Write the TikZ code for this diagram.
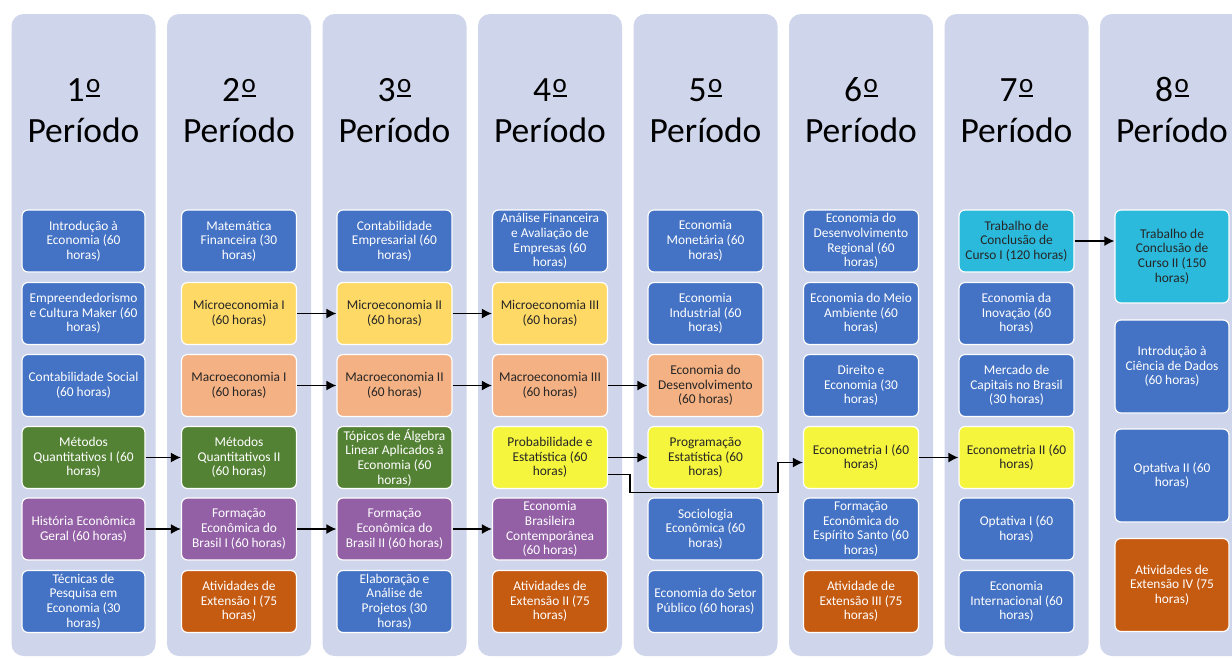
\documentclass[tikz,border=0pt]{standalone}
\usepackage{fontspec}
\setmainfont{Carlito}
\usetikzlibrary{arrows.meta}

\definecolor{fundo}{HTML}{CFD5EA}
\definecolor{azul}{HTML}{4472C4}
\definecolor{amarelo}{HTML}{FFD966}
\definecolor{salmao}{HTML}{F4B183}
\definecolor{verde}{HTML}{548235}
\definecolor{roxo}{HTML}{9360A6}
\definecolor{laranja}{HTML}{C55A11}
\definecolor{limao}{HTML}{F5F53D}
\definecolor{ciano}{HTML}{2BB9DC}
\definecolor{texto}{HTML}{262626}

% o ordinal sublinhado
\newcommand{\ordm}{\kern1.5pt\raisebox{4.5pt}{\fontsize{27}{27}\selectfont
  \setbox0\hbox{o}\vbox{\box0\kern2.3pt\hrule height 2pt}}}

\tikzset{
  titulo/.style={anchor=base, font=\fontsize{35.5}{41}\selectfont},
  disc/.style={draw=white, line width=1.2pt, rounded corners=6pt, minimum width=115pt,
    minimum height=62pt, inner sep=0pt, align=center, font=\fontsize{13.4}{14.7}\selectfont},
  obrig/.style={disc, fill=azul, text=white},
  micro/.style={disc, fill=amarelo, text=texto},
  macro/.style={disc, fill=salmao, text=texto},
  quant/.style={disc, fill=verde, text=white},
  hist/.style={disc, fill=roxo, text=white},
  ext/.style={disc, fill=laranja, text=white},
  estat/.style={disc, fill=limao, text=texto},
  tcc/.style={disc, fill=ciano, text=texto},
  alto/.style={minimum height=93pt, minimum width=114pt},
  seta/.style={-{Latex[length=10pt,width=10pt]}, line width=1.5pt},
}

\begin{document}
\begin{tikzpicture}[x=1pt,y=-1pt]
  \useasboundingbox (0,0) rectangle (1232,657);
  \clip (0,0) rectangle (1232,657);

  % periodos
  \foreach \i/\x in {1/83.5,2/239,3/394.5,4/550,5/705.5,6/861,7/1016.5,8/1172} {
    \fill[fundo, rounded corners=12pt] (\x-72,14) rectangle (\x+72,656);
    \node[titulo] (num\i) at (\x,101) {{\i}\ordm};
    \node[titulo] (per\i) at (\x,142) {Período};
  }

  % 1o periodo
  \node[obrig, minimum width=123pt] (intro) at (83.5,241) {Introdução à\\Economia  (60\\horas)};
  \node[obrig, minimum width=123pt] (empre) at (83.5,313.5) {Empreendedorismo\\e Cultura Maker (60\\horas)};
  \node[obrig, minimum width=123pt] (contsoc) at (83.5,385.5) {Contabilidade Social\\(60 horas)};
  \node[quant, minimum width=123pt] (mq1) at (83.5,457.5) {Métodos\\Quantitativos I (60\\horas)};
  \node[hist, minimum width=123pt] (histger) at (83.5,529) {História Econômica\\Geral (60 horas)};
  \node[obrig, minimum width=123pt] (tecn) at (83.5,601.5) {Técnicas de\\Pesquisa em\\Economia (30\\horas)};

  % 2o periodo
  \node[obrig] (matfin) at (239,241) {Matemática\\Financeira (30\\horas)};
  \node[micro] (micro1) at (239,313.5) {Microeconomia I\\(60 horas)};
  \node[macro] (macro1) at (239,385.5) {Macroeconomia I\\(60 horas)};
  \node[quant] (mq2) at (239,457.5) {Métodos\\Quantitativos II\\(60 horas)};
  \node[hist] (feb1) at (239,529) {Formação\\Econômica do\\Brasil I (60 horas)};
  \node[ext] (ext1) at (239,601.5) {Atividades de\\Extensão I (75\\horas)};

  % 3o periodo
  \node[obrig] (contemp) at (394.5,241) {Contabilidade\\Empresarial (60\\horas)};
  \node[micro] (micro2) at (394.5,313.5) {Microeconomia II\\(60 horas)};
  \node[macro] (macro2) at (394.5,385.5) {Macroeconomia II\\(60 horas)};
  \node[quant] (algebra) at (394.5,457.5) {Tópicos de Álgebra\\Linear Aplicados à\\Economia (60\\horas)};
  \node[hist] (feb2) at (394.5,529) {Formação\\Econômica do\\Brasil II (60 horas)};
  \node[obrig] (proj) at (394.5,601.5) {Elaboração e\\Análise de\\Projetos (30\\horas)};

  % 4o periodo
  \node[obrig] (analise) at (550,241) {Análise Financeira\\e Avaliação de\\Empresas (60\\horas)};
  \node[micro] (micro3) at (550,313.5) {Microeconomia III\\(60 horas)};
  \node[macro] (macro3) at (550,385.5) {Macroeconomia III\\(60 horas)};
  \node[estat] (prob) at (550,457.5) {Probabilidade e\\Estatística (60\\horas)};
  \node[hist] (ebc) at (550,529) {Economia\\Brasileira\\Contemporânea\\(60 horas)};
  \node[ext] (ext2) at (550,601.5) {Atividades de\\Extensão II (75\\horas)};

  % 5o periodo
  \node[obrig] (monet) at (705.5,241) {Economia\\Monetária (60\\horas)};
  \node[obrig] (indust) at (705.5,313.5) {Economia\\Industrial (60\\horas)};
  \node[macro] (desenv) at (705.5,385.5) {Economia do\\Desenvolvimento\\(60 horas)};
  \node[estat] (progest) at (705.5,457.5) {Programação\\Estatística (60\\horas)};
  \node[obrig] (socio) at (705.5,529) {Sociologia\\Econômica (60\\horas)};
  \node[obrig] (setpub) at (705.5,601.5) {Economia do Setor\\Público (60 horas)};

  % 6o periodo
  \node[obrig] (regional) at (861,241) {Economia do\\Desenvolvimento\\Regional (60\\horas)};
  \node[obrig] (ambiente) at (861,313.5) {Economia do Meio\\Ambiente (60\\horas)};
  \node[obrig] (direito) at (861,385.5) {Direito e\\Economia (30\\horas)};
  \node[estat] (econo1) at (861,457.5) {Econometria I  (60\\horas)};
  \node[obrig] (fees) at (861,529) {Formação\\Econômica do\\Espírito Santo (60\\horas)};
  \node[ext] (ext3) at (861,601.5) {Atividade de\\Extensão III (75\\horas)};

  % 7o periodo
  \node[tcc] (tcc1) at (1016.5,241) {Trabalho de\\Conclusão de\\Curso I (120 horas)};
  \node[obrig] (inov) at (1016.5,313.5) {Economia da\\Inovação (60\\horas)};
  \node[obrig] (mercado) at (1016.5,385.5) {Mercado de\\Capitais no Brasil\\(30 horas)};
  \node[estat] (econo2) at (1016.5,457.5) {Econometria II (60\\horas)};
  \node[obrig] (opt1) at (1016.5,529) {Optativa I (60\\horas)};
  \node[obrig] (inter) at (1016.5,601.5) {Economia\\Internacional (60\\horas)};

  % 8o periodo
  \node[tcc, alto] (tcc2) at (1172,256.5) {Trabalho de\\Conclusão de\\Curso II (150\\horas)};
  \node[obrig, alto] (dados) at (1172,366.5) {Introdução à\\Ciência de Dados\\(60 horas)};
  \node[obrig, alto] (opt2) at (1172,475.5) {Optativa II (60\\horas)};
  \node[ext, alto] (ext4) at (1172,585) {Atividades de\\Extensão IV (75\\horas)};

  % pre-requisitos
  \draw[seta] (micro1) -- (micro2);
  \draw[seta] (micro2) -- (micro3);
  \draw[seta] (macro1) -- (macro2);
  \draw[seta] (macro2) -- (macro3);
  \draw[seta] (macro3) -- (desenv);
  \draw[seta] (mq1) -- (mq2);
  \draw[seta] (histger) -- (feb1);
  \draw[seta] (feb1) -- (feb2);
  \draw[seta] (feb2) -- (ebc);
  \draw[seta] (prob) -- (progest);
  \draw[seta] ([yshift=-17pt]prob.east) -- ++(22,0) -- ++(0,18)
    -| ([xshift=-25pt,yshift=-5pt]econo1.west) -- ([yshift=-5pt]econo1.west);
  \draw[seta] (econo1) -- (econo2);
  \draw[seta] (tcc1.east) -- (tcc1.east -| tcc2.west);
\end{tikzpicture}
\end{document}
